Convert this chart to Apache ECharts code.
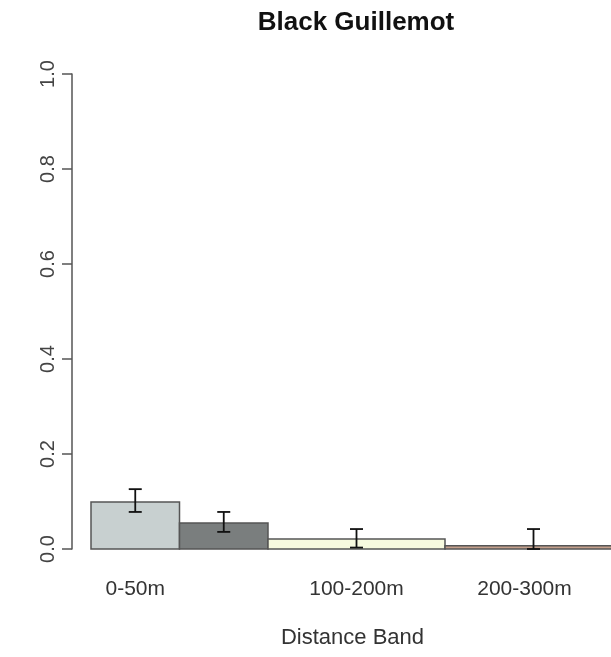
<!DOCTYPE html>
<html>
<head>
<meta charset="utf-8">
<script src="https://cdn.jsdelivr.net/npm/echarts@6/dist/echarts.min.js"></script>
<style>html,body{margin:0;padding:0;background:#fff;}#c{width:611px;height:657px;}</style>
</head>
<body>
<div id="c"></div>
<script>
const bandLabels = ['0-50m', '50-100m', '100-200m', '200-300m'];
const labelShown = [true, false, true, true];
const bandStart = [0, 50, 100, 200];
const bandEnd = [50, 100, 200, 300];
const proportion = [0.099, 0.055, 0.021, 0.007];
const errLow = [0.078, 0.036, 0.003, 0.0];
const errHigh = [0.126, 0.078, 0.042, 0.042];
const barColors = ['#c8d0d0', '#7a7e7e', '#f7fadf', '#c4a08c'];
const yTicks = [0, 0.2, 0.4, 0.6, 0.8, 1.0];

const barData = bandLabels.map((b, i) => [bandStart[i], bandEnd[i], proportion[i], i]);
const errData = bandLabels.map((b, i) => [(bandStart[i] + bandEnd[i]) / 2, errLow[i], errHigh[i]]);

const chart = echarts.init(document.getElementById('c'), null, {renderer: 'canvas'});
chart.setOption({
  animation: false,
  backgroundColor: '#ffffff',
  title: {
    text: 'Black Guillemot',
    left: 351, top: 5, textAlign: 'center',
    textStyle: {fontFamily: 'Liberation Sans', fontWeight: 'bold', fontSize: 26, color: '#111'}
  },
  grid: {left: 91, width: 531, top: 74, bottom: 108, outerBoundsMode: 'none', containLabel: false},
  xAxis: {
    type: 'value', min: 0, max: 300, interval: 25,
    axisLine: {show: false}, axisTick: {show: false}, splitLine: {show: false},
    axisLabel: {
      margin: 30, fontFamily: 'Liberation Sans', fontSize: 21, color: '#333',
      formatter: function (v) {
        for (let i = 0; i < bandLabels.length; i++) {
          if ((bandStart[i] + bandEnd[i]) / 2 === v && labelShown[i]) {
            return i === bandLabels.length - 1 ? '{last|' + bandLabels[i] + '}' : bandLabels[i];
          }
        }
        return '';
      },
      rich: {
        last: {fontFamily: 'Liberation Sans', fontSize: 21, color: '#333', padding: [0, 18, 0, 0]}
      }
    },
    name: 'Distance Band', nameLocation: 'middle', nameGap: 78,
    nameTextStyle: {fontFamily: 'Liberation Sans', fontSize: 22, color: '#333', padding: [0, 8, 0, 0]}
  },
  yAxis: {
    type: 'value', min: yTicks[0], max: yTicks[yTicks.length - 1], interval: 0.2,
    offset: 19,
    axisLine: {show: true, onZero: false, lineStyle: {color: '#555', width: 1.5}},
    axisTick: {show: true, length: 10, lineStyle: {color: '#555', width: 1.5}},
    splitLine: {show: false},
    axisLabel: {
      rotate: 90, margin: 14, fontFamily: 'Liberation Sans', fontSize: 20, color: '#444',
      formatter: v => v.toFixed(1)
    }
  },
  series: [
    {
      type: 'custom',
      data: barData,
      renderItem: function (params, api) {
        const p0 = api.coord([api.value(0), api.value(2)]);
        const p1 = api.coord([api.value(1), 0]);
        const idx = api.value(3);
        return {
          type: 'rect',
          shape: {x: p0[0], y: p0[1], width: p1[0] - p0[0], height: p1[1] - p0[1]},
          style: {fill: barColors[idx], stroke: '#555', lineWidth: 1.5}
        };
      }
    },
    {
      type: 'custom',
      data: errData,
      z: 5,
      renderItem: function (params, api) {
        const lo = api.coord([api.value(0), api.value(1)]);
        const hi = api.coord([api.value(0), api.value(2)]);
        const w = 6.5;
        const st = {stroke: '#111', lineWidth: 1.8};
        return {
          type: 'group',
          children: [
            {type: 'line', shape: {x1: lo[0], y1: lo[1], x2: hi[0], y2: hi[1]}, style: st},
            {type: 'line', shape: {x1: lo[0] - w, y1: lo[1], x2: lo[0] + w, y2: lo[1]}, style: st},
            {type: 'line', shape: {x1: hi[0] - w, y1: hi[1], x2: hi[0] + w, y2: hi[1]}, style: st}
          ]
        };
      }
    }
  ]
});
</script>
</body>
</html>
